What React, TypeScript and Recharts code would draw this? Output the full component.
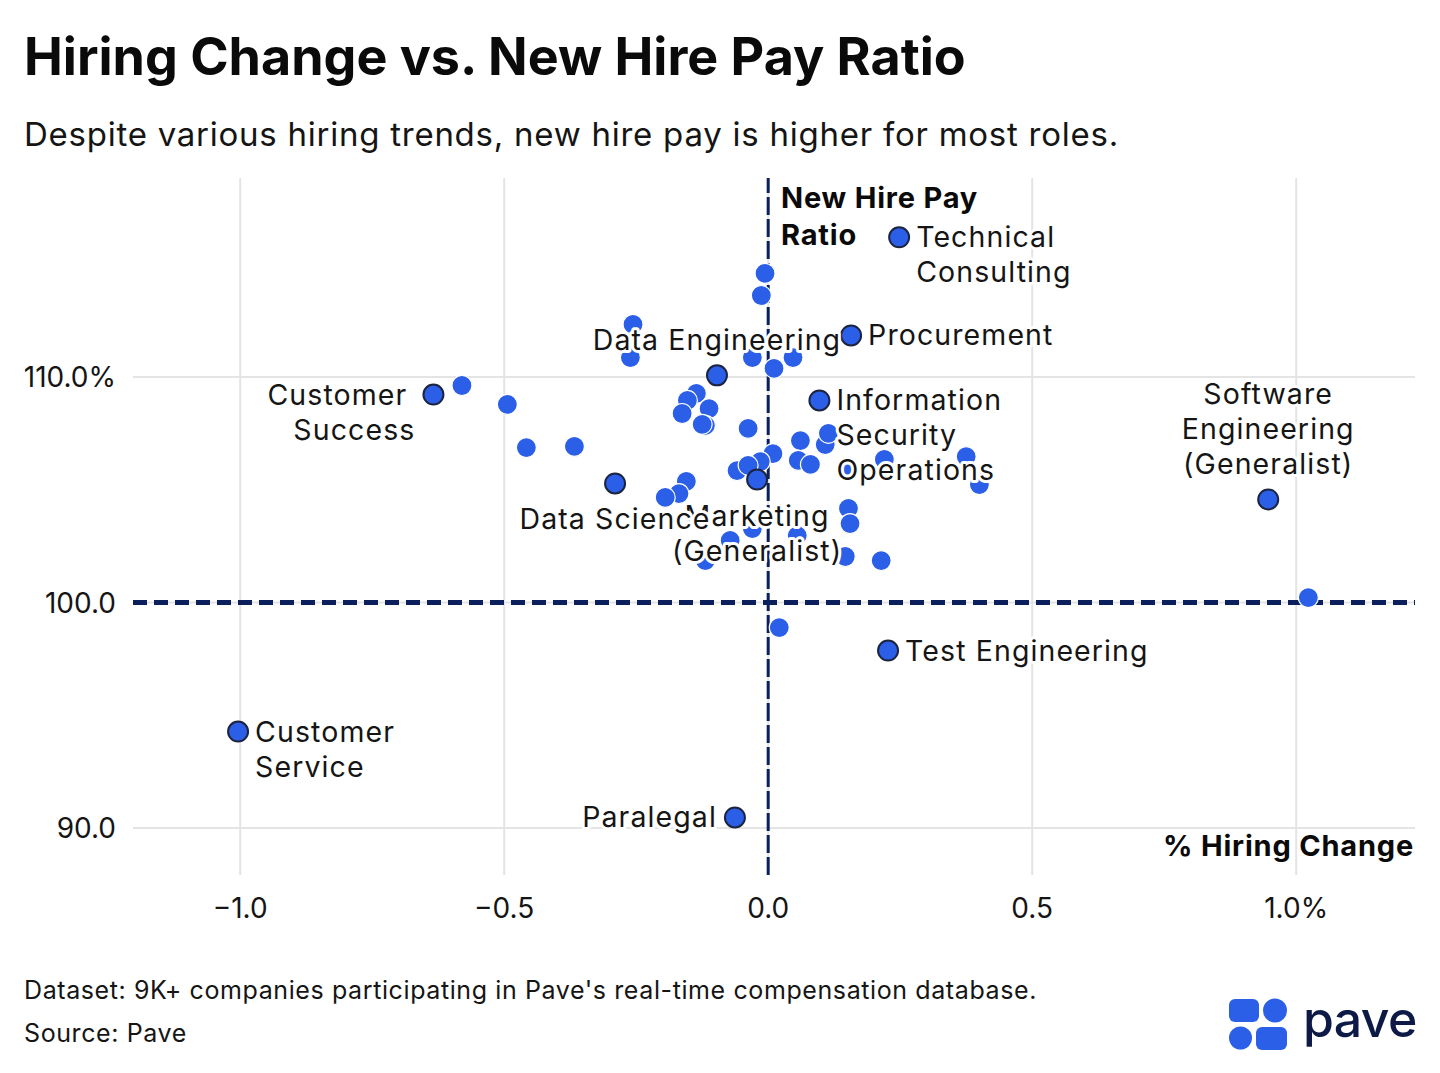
import React from "react";
import { ScatterChart, Scatter, XAxis, YAxis, CartesianGrid, ReferenceLine } from "recharts";

// ---- data ----
const X_TICKS = [-1, -0.5, 0, 0.5, 1];
const X_TICK_LABELS = ["\u22121.0", "\u22120.5", "0.0", "0.5", "1.0%"];
const Y_TICKS = [90, 100, 110];
const Y_TICK_LABELS = ["90.0", "100.0", "110.0%"];

const LABELED_NAMES = [
  "Technical Consulting",
  "Procurement",
  "Customer Success",
  "Information Security Operations",
  "Software Engineering (Generalist)",
  "Marketing (Generalist)",
  "Data Science",
  "Data Engineering",
  "Test Engineering",
  "Customer Service",
  "Paralegal",
];
const LABELED_X = [0.248, 0.157, -0.634, 0.097, 0.947, -0.021, -0.29, -0.097, 0.227, -1.004, -0.063];
const LABELED_Y = [116.19, 111.84, 109.22, 108.96, 104.57, 105.45, 105.28, 110.07, 97.87, 94.28, 90.47];

const OTHER_X = [
  -0.006, -0.013, -0.256, -0.261, -0.03, 0.047, 0.011, -0.58, -0.494, -0.136,
  -0.153, -0.112, -0.163, -0.119, -0.125, -0.038, -0.458, -0.367, 0.061, 0.108,
  0.114, 0.009, 0.057, 0.08, -0.015, -0.059, -0.038, 0.22, 0.152, 0.375,
  0.4, -0.155, -0.169, -0.195, 0.152, 0.155, -0.03, 0.055, -0.072, -0.119,
  0.146, 0.214, 1.023, 0.021,
];
const OTHER_Y = [
  114.59, 113.61, 112.33, 110.86, 110.86, 110.86, 110.38, 109.62, 108.78, 109.27,
  108.96, 108.6, 108.38, 107.85, 107.9, 107.72, 106.87, 106.92, 107.18, 107.0,
  107.5, 106.6, 106.3, 106.12, 106.25, 105.85, 106.08, 106.34, 105.94, 106.47,
  105.23, 105.37, 104.83, 104.66, 104.17, 103.5, 103.28, 102.97, 102.75, 101.86,
  102.04, 101.86, 100.22, 98.89,
];

const LABELED_POINTS = LABELED_NAMES.map((name, i) => ({ name, x: LABELED_X[i], y: LABELED_Y[i] }));
const OTHER_POINTS = OTHER_X.map((x, i) => ({ x, y: OTHER_Y[i] }));

// ---- label layout (placement relative to dot) ----
const LABEL_LAYOUT: Record<string, { side: string; lines: string[]; dx?: number[] }> = {
  "Technical Consulting": { side: "right", lines: ["Technical", "Consulting"] },
  Procurement: { side: "right", lines: ["Procurement"] },
  "Customer Success": { side: "left", lines: ["Customer", "Success"], dx: [-8, 0] },
  "Information Security Operations": { side: "right", lines: ["Information", "Security", "Operations"] },
  "Software Engineering (Generalist)": { side: "above", lines: ["Software", "Engineering", "(Generalist)"] },
  "Data Science": { side: "below", lines: ["Data Science"] },
  "Marketing (Generalist)": { side: "below", lines: ["Marketing", "(Generalist)"] },
  "Data Engineering": { side: "above", lines: ["Data Engineering"] },
  "Test Engineering": { side: "right", lines: ["Test Engineering"] },
  "Customer Service": { side: "right", lines: ["Customer", "Service"] },
  Paralegal: { side: "left", lines: ["Paralegal"] },
};

const BLUE = "#2B5FE8";
const NAVY = "#0B1F5C";
const FONT = "Inter, 'Noto Sans', sans-serif";
const TEXT = "#151515";

const OtherDot = (p: any) => (
  <circle cx={p.cx} cy={p.cy} r={10} fill={BLUE} stroke="#ffffff" strokeWidth={1.2} />
);
const LabeledDot = (p: any) => (
  <circle cx={p.cx} cy={p.cy} r={10} fill={BLUE} stroke="#1c2440" strokeWidth={2} />
);

const LabelShape = (p: any) => {
  const { cx, cy, payload } = p;
  const layout = LABEL_LAYOUT[payload.name];
  if (!layout) return <g />;
  const lh = 35;
  const n = layout.lines.length;
  let anchor = "start";
  let x0 = cx;
  let y0 = cy;
  if (layout.side === "right") {
    anchor = "start";
    x0 = cx + 17;
    y0 = cy;
  } else if (layout.side === "left") {
    anchor = "end";
    x0 = cx - 18;
    y0 = cy;
  } else if (layout.side === "above") {
    anchor = "middle";
    y0 = cy - 35 - (n - 1) * lh;
  } else {
    anchor = "middle";
    y0 = cy + 36;
  }
  return (
    <text
      textAnchor={anchor}
      fontFamily={FONT}
      fontSize={28.5}
      letterSpacing={1.1}
      fill={TEXT}
      stroke="#ffffff"
      strokeWidth={6}
      strokeLinejoin="round"
      style={{ paintOrder: "stroke" }}
    >
      {layout.lines.map((l, i) => (
        <tspan key={i} x={x0 + (layout.dx ? layout.dx[i] : 0)} y={y0 + i * lh + 10}>
          {l}
        </tspan>
      ))}
    </text>
  );
};

const XTick = (p: any) => {
  const idx = X_TICKS.indexOf(p.payload.value);
  return (
    <text x={p.x} y={918} textAnchor="middle" fontFamily={FONT} fontSize={28} fill={TEXT}>
      {X_TICK_LABELS[idx]}
    </text>
  );
};
const YTick = (p: any) => {
  const idx = Y_TICKS.indexOf(p.payload.value);
  return (
    <text x={116} y={p.y + 10} textAnchor="end" fontFamily={FONT} fontSize={28} fill={TEXT}>
      {Y_TICK_LABELS[idx]}
    </text>
  );
};

export default function App() {
  return (
    <div style={{ position: "absolute", left: 0, top: 0, width: 1440, height: 1073, background: "#fff" }}>
      <svg width={1440} height={1073} style={{ position: "absolute", left: 0, top: 0 }}>
        <text x={24} y={75} fontFamily={FONT} fontSize={52} fontWeight={700} fill="#0a0a0a">
          Hiring Change vs. New Hire Pay Ratio
        </text>
        <text x={24} y={146} fontFamily={FONT} fontSize={33} letterSpacing={0.75} fill={TEXT}>
          Despite various hiring trends, new hire pay is higher for most roles.
        </text>
        <text x={24} y={999} fontFamily={FONT} fontSize={25} letterSpacing={0.6} fill={TEXT}>
          Dataset: 9K+ companies participating in Pave's real-time compensation database.
        </text>
        <text x={24} y={1042} fontFamily={FONT} fontSize={25} letterSpacing={0.6} fill={TEXT}>
          Source: Pave
        </text>
        {/* logo */}
        <rect x={1229} y={999} width={30} height={23} rx={6} fill={BLUE} />
        <circle cx={1275} cy={1010.5} r={12} fill={BLUE} />
        <circle cx={1240.5} cy={1038} r={11.5} fill={BLUE} />
        <rect x={1256} y={1027} width={31} height={23} rx={6} fill={BLUE} />
        <text x={1303} y={1037} fontFamily={FONT} fontSize={50} fontWeight={500} fill="#0d1a45" letterSpacing={-0.6}>
          pave
        </text>
      </svg>
      <div style={{ position: "absolute", left: 0, top: 0 }}>
        <ScatterChart width={1440} height={1073} margin={{ top: 178, right: 25, bottom: 148, left: 23 }}>
          <CartesianGrid stroke="#e4e4e4" strokeWidth={2} horizontalValues={Y_TICKS} verticalValues={X_TICKS} />
          <XAxis
            type="number"
            dataKey="x"
            domain={[-1.203, 1.225]}
            ticks={X_TICKS}
            axisLine={false}
            tickLine={false}
            tick={<XTick />}
            height={50}
          />
          <YAxis
            type="number"
            dataKey="y"
            domain={[87.92, 118.82]}
            ticks={Y_TICKS}
            axisLine={false}
            tickLine={false}
            tick={<YTick />}
            width={110}
          />
          <Scatter data={OTHER_POINTS} shape={OtherDot} isAnimationActive={false} />
          <Scatter data={LABELED_POINTS} shape={LabeledDot} isAnimationActive={false} />
          <Scatter data={LABELED_POINTS} shape={LabelShape} isAnimationActive={false} />
          <ReferenceLine x={0} stroke={NAVY} strokeWidth={3} strokeDasharray="18 4" />
          <ReferenceLine y={100} stroke={NAVY} strokeWidth={5} strokeDasharray="14 7" />
        </ScatterChart>
      </div>
      <svg width={1440} height={1073} style={{ position: "absolute", left: 0, top: 0, pointerEvents: "none" }}>
        <text fontFamily={FONT} fontSize={29} fontWeight={700} letterSpacing={0.8} fill="#0a0a0a">
          <tspan x={781} y={208}>New Hire Pay</tspan>
          <tspan x={781} y={245}>Ratio</tspan>
        </text>
        <text x={1414} y={856} textAnchor="end" fontFamily={FONT} fontSize={29} fontWeight={700} letterSpacing={0.8} fill="#0a0a0a">
          % Hiring Change
        </text>
      </svg>
    </div>
  );
}
